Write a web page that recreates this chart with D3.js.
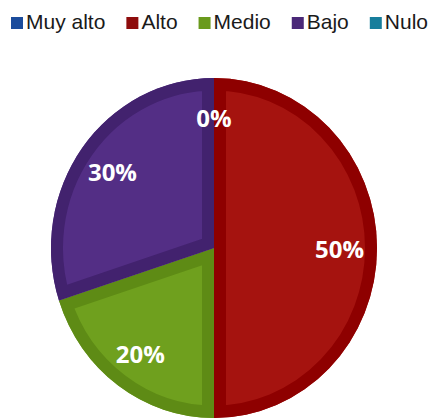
<!DOCTYPE html>
<html>
<head>
<meta charset="utf-8">
<script src="https://cdn.jsdelivr.net/npm/d3@7"></script>
<style>
  html, body { margin: 0; padding: 0; background: #fff; }
</style>
</head>
<body>
<div id="chart"></div>
<script>
  'use strict';

  var categories = ['Muy alto', 'Alto', 'Medio', 'Bajo', 'Nulo'];
  var values = [0, 50, 20, 30, 0];
  var legendColors = ['#1b4c9c', '#8e0c0c', '#6a9a1c', '#4a2878', '#177e9c'];
  var fillColors = ['#1f55a8', '#a5130f', '#6fa01e', '#532e85', '#1a8aa8'];
  var bandColors = ['#17458c', '#8e0000', '#5e8b15', '#42226e', '#146f88'];

  var width = 431, height = 419;
  var cx = 214, cy = 248, rx = 163, ry = 170;

  var svg = d3.select('#chart')
      .append('svg')
      .attr('width', width)
      .attr('height', height);

  // legend
  var legend = svg.append('g').attr('class', 'legend');
  var lx = 11;
  categories.forEach(function (name, i) {
      legend.append('rect')
          .attr('x', lx).attr('y', 17)
          .attr('width', 12).attr('height', 12)
          .style('fill', legendColors[i]);
      var t = legend.append('text')
          .attr('x', lx + 15).attr('y', 29)
          .style('font-family', '"Liberation Sans", Arial, sans-serif')
          .style('font-size', '21px')
          .style('fill', '#1a1a1a')
          .text(name);
      lx += 15 + t.node().getComputedTextLength() + 21;
  });

  // pie
  var pie = d3.pie().sort(null).value(function (d) { return d; });
  var arcs = pie(values);
  var arc = d3.arc().innerRadius(0).outerRadius(rx);
  var labelArc = d3.arc().innerRadius(rx * 0.77).outerRadius(rx * 0.77);

  var g = svg.append('g')
      .attr('transform', 'translate(' + cx + ',' + cy + ') scale(1,' + (ry / rx) + ')');

  var defs = svg.append('defs');
  arcs.forEach(function (d, i) {
      defs.append('clipPath')
          .attr('id', 'clip' + i)
          .append('path')
          .attr('d', arc(d));
  });

  var slices = g.selectAll('.slice')
      .data(arcs)
      .enter()
      .append('g')
      .attr('class', 'slice')
      .filter(function (d) { return d.endAngle > d.startAngle; });

  slices.append('path')
      .attr('d', arc)
      .style('fill', function (d) { return fillColors[d.index]; });

  slices.append('path')
      .attr('d', arc)
      .attr('clip-path', function (d) { return 'url(#clip' + d.index + ')'; })
      .style('fill', 'none')
      .style('stroke', function (d) { return bandColors[d.index]; })
      .style('stroke-width', 24)
      .style('stroke-linejoin', 'miter');

  // labels (skip duplicates landing on the same spot)
  var seen = {};
  var labelData = arcs.filter(function (d) {
      var c = labelArc.centroid(d);
      var key = Math.round(c[0]) + ',' + Math.round(c[1]) + ',' + d.value;
      if (seen[key]) { return false; }
      seen[key] = true;
      return true;
  });

  svg.append('g')
      .selectAll('text')
      .data(labelData)
      .enter()
      .append('text')
      .attr('x', function (d) { return cx + labelArc.centroid(d)[0]; })
      .attr('y', function (d) { return cy + labelArc.centroid(d)[1] * ry / rx; })
      .attr('text-anchor', 'middle')
      .attr('dominant-baseline', 'central')
      .style('font-family', '"Open Sans", sans-serif')
      .style('font-weight', 'bold')
      .style('font-size', '24px')
      .style('fill', '#fff')
      .text(function (d) { return d.value + '%'; });
</script>
</body>
</html>
